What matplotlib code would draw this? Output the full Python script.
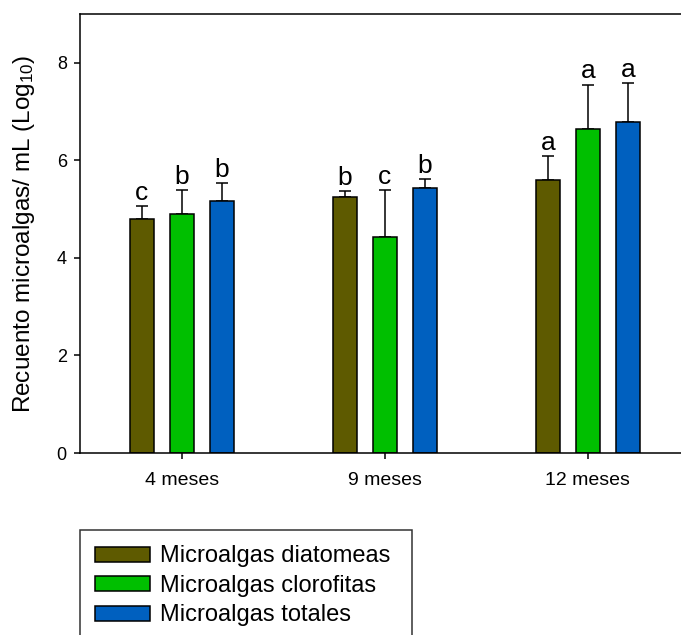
import matplotlib
matplotlib.use("Agg")
import matplotlib.pyplot as plt
import numpy as np

plt.rcParams['font.family'] = ['Liberation Sans', 'DejaVu Sans']
plt.rcParams['mathtext.fontset'] = 'custom'
plt.rcParams['mathtext.rm'] = 'Liberation Sans'
plt.rcParams['mathtext.it'] = 'Liberation Sans'

# datos
meses = ['4 meses', '9 meses', '12 meses']
series = ['Microalgas diatomeas', 'Microalgas clorofitas', 'Microalgas totales']
diatomeas = [4.79, 5.25, 5.59]
clorofitas = [4.90, 4.42, 6.64]
totales = [5.17, 5.44, 6.79]
err_diatomeas = [0.27, 0.12, 0.50]
err_clorofitas = [0.49, 0.97, 0.91]
err_totales = [0.36, 0.18, 0.79]
letras_diatomeas = ['c', 'b', 'a']
letras_clorofitas = ['b', 'c', 'a']
letras_totales = ['b', 'b', 'a']

colores = ['#5e5a00', '#00bf00', '#0060bf']

fig = plt.figure(figsize=(6.81, 6.35), dpi=100)
W, H = 681, 635
ax = fig.add_axes([80/W, (H-453)/H, (689.5-80)/W, (453-14)/H])

x = np.arange(len(meses))
ancho = 0.118
paso = 0.197

valores = [diatomeas, clorofitas, totales]
errores = [err_diatomeas, err_clorofitas, err_totales]
letras = [letras_diatomeas, letras_clorofitas, letras_totales]

for i in range(3):
    pos = x + (i-1)*paso
    ax.bar(pos, valores[i], ancho, color=colores[i], edgecolor='black',
           linewidth=1.1, label=series[i], zorder=2)
    ax.errorbar(pos, valores[i], yerr=[[0]*3, errores[i]], fmt='none',
                ecolor='black', elinewidth=1.1, capsize=4.5, capthick=1.1, zorder=1)
    for j in range(3):
        ax.annotate(letras[i][j], xy=(pos[j], valores[i][j]+errores[i][j]),
                    xytext=(0, 4.5), textcoords='offset points',
                    ha='center', va='baseline', fontsize=19)

ax.set_xlim(-0.5, 2.5)
ax.set_ylim(0, 9)
ax.set_yticks([0, 2, 4, 6, 8])
ax.set_xticks(x)
ax.set_xticklabels(meses)
ax.tick_params(axis='y', direction='out', length=4.5, width=1.1, labelsize=13, pad=5)
ax.tick_params(axis='x', direction='out', length=4.5, width=1.1, labelsize=14, pad=9.5)
for s in ax.spines.values():
    s.set_linewidth(1.1)
ax.set_ylabel(r'Recuento microalgas/ mL (Log$_{10}$)', fontsize=17.5, labelpad=14)

leg = fig.legend(loc='upper left', bbox_to_anchor=(80/W, (H-530)/H - 0.01, (412-80)/W, 0.01),
                 mode='expand', fontsize=17, frameon=True, fancybox=False,
                 edgecolor='black', borderaxespad=0, handlelength=2.3,
                 handleheight=0.6, handletextpad=0.45, labelspacing=0.32,
                 borderpad=0.65)
leg.get_frame().set_linewidth(1.1)

fig.savefig('out.png', dpi=100)
